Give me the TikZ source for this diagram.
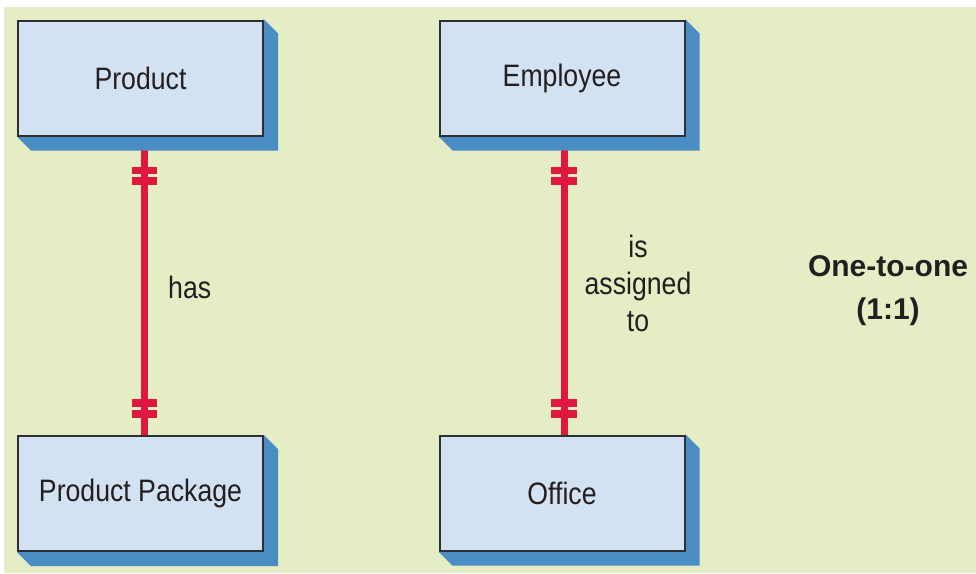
\documentclass[tikz,border=0pt]{standalone}
\usepackage{fontspec}
\setmainfont[FakeStretch=0.86]{Liberation Sans}
\newfontfamily\titlefont{Liberation Sans}
\usetikzlibrary{calc}
\definecolor{bggreen}{HTML}{E4EDC3}
\definecolor{boxfill}{HTML}{D3E2F2}
\definecolor{boxline}{HTML}{2E2E33}
\definecolor{shadowblue}{HTML}{4A8CC4}
\definecolor{relred}{HTML}{E0173F}
\definecolor{txt}{HTML}{231F20}
\tikzset{
  entity/.style={draw=boxline, fill=boxfill, line width=2pt, minimum width=245pt,
    minimum height=115pt, inner sep=0pt, text=txt, font=\fontsize{31}{37}\selectfont},
  relline/.style={draw=relred, line width=7pt},
  bar/.style={draw=relred, line width=7.5pt},
  lbl/.style={text=txt, font=\fontsize{31}{37}\selectfont, align=center, inner sep=0pt},
  ttl/.style={text=txt, font=\titlefont\bfseries\fontsize{30}{43}\selectfont, align=center, inner sep=0pt}
}
\newcommand{\shadowof}[1]{%
  \fill[shadowblue] (#1.north east) -- ++(14,14) -- ($(#1.south east)+(14,14)$)
    -- ($(#1.south west)+(14,14)$) -- (#1.south west) -- cycle;}
\begin{document}
\begin{tikzpicture}[x=1pt,y=-1pt]
\useasboundingbox (0,0) rectangle (976,573);
\fill[white] (0,0) rectangle (976,573);
\fill[bggreen] (4,7) rectangle (976,573);

\coordinate (pc) at (140.5,78);
\coordinate (ppc) at (140.5,493.5);
\coordinate (ec) at (562,78);
\coordinate (oc) at (562,493);

% relationship lines (drawn first; shadows cover the top ends)
\coordinate (l1t) at (144.5,140);
\coordinate (l1b) at (144.5,436);
\coordinate (l2t) at (564,140);
\coordinate (l2b) at (564,436);
\draw[relline] (l1t) -- (l1b);
\draw[relline] (l2t) -- (l2b);
\foreach \c/\w in {l1/12.5, l2/13}{
  \draw[bar] ($(\c t)+(-\w,30.5)$) -- ($(\c t)+(\w,30.5)$);
  \draw[bar] ($(\c t)+(-\w,41)$) -- ($(\c t)+(\w,41)$);
  \draw[bar] ($(\c b)+(-\w,-33)$) -- ($(\c b)+(\w,-33)$);
  \draw[bar] ($(\c b)+(-\w,-22)$) -- ($(\c b)+(\w,-22)$);
}

\node[entity] (p) at (pc) {Product};
\node[entity] (pp) at (ppc) {Product Package};
\node[entity] (e) at (ec) {Employee};
\node[entity] (o) at (oc) {Office};
\shadowof{p}\shadowof{pp}\shadowof{e}\shadowof{o}
\node[entity] at (pc) {Product};
\node[entity] at (ppc) {Product Package};
\node[entity] at (ec) {Employee};
\node[entity] at (oc) {Office};

\node[lbl, anchor=west] (has) at (168,287) {has};
\node[lbl] (assign) at (638,283) {is\\assigned\\to};
\node[ttl] (title) at (888,291) {One-to-one\\(1:1)};
\end{tikzpicture}
\end{document}
